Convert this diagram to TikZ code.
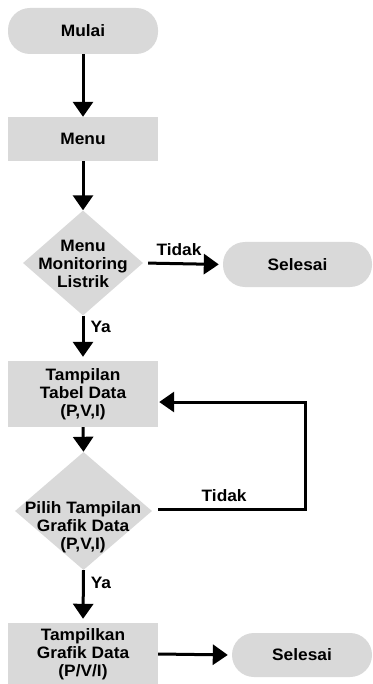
\documentclass[tikz,border=0pt]{standalone}
\usepackage{fontspec}
\setmainfont{Liberation Sans}[FakeStretch=1.05]
\usetikzlibrary{shapes.geometric,arrows.meta,calc}
\definecolor{boxgray}{RGB}{217,217,217}
\begin{document}
\begin{tikzpicture}[x=1pt,y=-1pt,
  every node/.style={font=\fontsize{16.5}{18}\selectfont\bfseries},
  term/.style={fill=boxgray,draw=none,rounded corners=22pt,inner sep=0pt},
  proc/.style={fill=boxgray,draw=none,inner sep=0pt,align=center},
  dec/.style={diamond,fill=boxgray,draw=none,inner sep=0pt},
  txt/.style={align=center,inner sep=0pt},
  lbl/.style={inner sep=0pt},
  flow/.style={line width=3pt,-{Triangle[width=20pt,length=15pt]}},
  plain/.style={line width=3pt}]
\useasboundingbox (0,0) rectangle (372,684);
\fill[white] (0,0) rectangle (372,684);
\node[term,minimum width=150pt,minimum height=46pt] (mulai) at (83,31) {Mulai};
\node[proc,minimum width=150pt,minimum height=44pt] (menu) at (83,139) {Menu};
\node[dec,minimum width=120pt,minimum height=105pt] (d1) at (83,263) {};
\node[txt] (d1t) at (83,264) {Menu\\Monitoring\\Listrik};
\node[term,minimum width=149pt,minimum height=45pt] (sel1) at (297.5,264.5) {Selesai};
\node[proc,minimum width=150pt,minimum height=66pt] (tabel) at (83,394) {Tampilan\\Tabel Data\\(P,V,I)};
\node[dec,minimum width=137pt,minimum height=118pt] (d2) at (83.5,511) {};
\node[txt] (d2t) at (83,527) {Pilih Tampilan\\Grafik Data\\(P,V,I)};
\node[proc,minimum width=150pt,minimum height=62pt] (tampil) at (83,654) {Tampilkan\\Grafik Data\\(P/V/I)};
\node[term,minimum width=140pt,minimum height=44pt] (sel2) at (302,655) {Selesai};
\coordinate (c1) at (305,509);
\coordinate (c2) at (305,402);
\coordinate (c3) at (158,509);
\draw[flow] (mulai.south) -- (menu.north);
\draw[flow] (menu.south) -- (d1.north);
\draw[flow,shorten <=5pt,shorten >=4pt] (d1.east) -- node[lbl,above=7pt,pos=0.45] (t1) {Tidak} (sel1.west);
\draw[flow,shorten >=4pt] (d1.south) -- node[lbl,right=6pt,pos=0.25] (y1) {Ya} (tabel.north);
\draw[flow] (tabel.south) -- (d2.north);
\draw[plain] (c3) -- node[lbl,above=6pt,pos=0.45] (t2) {Tidak} (c1) -- (c2);
\draw[flow,shorten >=1pt] ([xshift=1.5pt]c2) -- (c2 -| tabel.east);
\draw[flow,shorten >=4pt] (d2.south) -- node[lbl,right=6pt,pos=0.25] (y2) {Ya} (tampil.north);
\draw[flow,shorten >=4pt] (tampil.east) -- (sel2.west);
\end{tikzpicture}
\end{document}
